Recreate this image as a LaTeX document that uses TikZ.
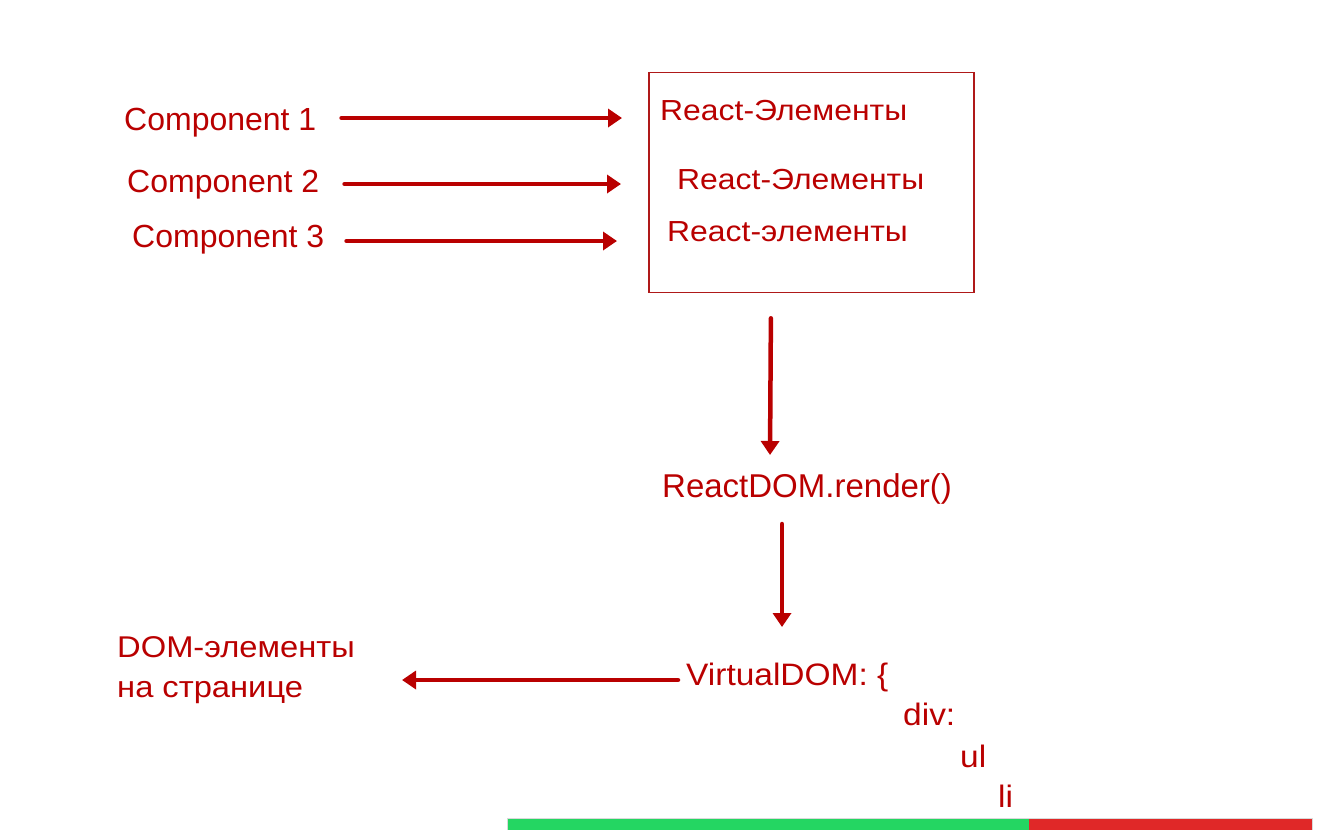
\documentclass[tikz,border=0pt]{standalone}
\usepackage{fontspec}
\setmainfont{Liberation Sans}
\newfontfamily\widefont[FakeStretch=1.1]{Liberation Sans}
\newfontfamily\domfont[FakeStretch=1.09]{Liberation Sans}
\newfontfamily\vdomfont[FakeStretch=1.08]{Liberation Sans}
\usetikzlibrary{positioning,calc,arrows.meta}

\definecolor{reactred}{RGB}{185,0,0}
\definecolor{boxred}{RGB}{175,25,25}
\definecolor{bargreen}{RGB}{36,214,98}
\definecolor{barred}{RGB}{224,40,40}

\tikzset{
    lbl/.style={anchor=base west, inner sep=0pt, text=reactred, font=\fontsize{32}{40}\selectfont},
    elem/.style={lbl, font=\widefont\fontsize{29}{34}\selectfont},
    vdomlbl/.style={lbl, font=\vdomfont\fontsize{31}{36}\selectfont},
    arr/.style={draw=reactred, line width=4.5pt, line cap=round, -{Triangle[length=14pt,width=18pt]}},
}

\begin{document}
\begin{tikzpicture}[x=1pt,y=-1pt]
    \useasboundingbox (0,0) rectangle (1322,830);

    % components
    \node[lbl] (comp1) at (124,130) {Component 1};
    \node[lbl] (comp2) at (127,192) {Component 2};
    \node[lbl] (comp3) at (132,247) {Component 3};

    % box of react elements
    \node[draw=boxred, line width=1.8pt, minimum width=325pt, minimum height=220pt, anchor=north west] (elems) at (648,71.5) {};
    \node[elem] (el1) at (660,120) {React-Элементы};
    \node[elem] (el2) at (677,189) {React-Элементы};
    \node[elem] (el3) at (667,241) {React-элементы};

    \draw[arr] ([xshift=25pt,yshift=12pt]comp1.base east) coordinate (a1) -- ([xshift=-26pt]elems.west |- a1);
    \draw[arr] ([xshift=25pt,yshift=8pt]comp2.base east) coordinate (a2) -- ([xshift=-27pt]elems.west |- a2);
    \draw[arr] ([xshift=22pt,yshift=6pt]comp3.base east) coordinate (a3) -- ([xshift=-31pt]elems.west |- a3);

    % render
    \node[lbl, font=\fontsize{33}{40}\selectfont] (render) at (662,497) {ReactDOM.render()};
    \draw[arr] ([xshift=-40.5pt,yshift=-25pt]elems.south) -- ([xshift=108pt,yshift=42pt]render.base west);

    % virtual dom
    \node[vdomlbl] (vdom) at (686,685) {VirtualDOM: \{};
    \node[vdomlbl] (div) at (903,725) {div:};
    \node[vdomlbl] (ul) at (960,767) {ul};
    \node[vdomlbl] (li) at (998,807) {li};
    \draw[arr] ([xshift=120pt,yshift=-27pt]render.base west) -- ([xshift=96pt,yshift=58pt]vdom.base west);

    % dom elements
    \node[lbl, font=\domfont\fontsize{30}{40}\selectfont] (domel) at (117,657) {DOM-элементы};
    \node[lbl, font=\domfont\fontsize{30}{40}\selectfont, below=0pt of domel.base west, anchor=base west, yshift=-40pt] (page) {на странице};
    \draw[arr] ([xshift=-8pt,yshift=5pt]vdom.base west) coordinate (a4) -- ([xshift=47pt]domel.east |- a4);

    % bar at the bottom
    \fill[bargreen] (507,818) rectangle (1029,830);
    \fill[barred] (1029,818) rectangle (1312,830);
    \draw[black!15, line width=0.8pt] (507,830) -- (507,818) -- (1312,818) -- (1312,830);
\end{tikzpicture}
\end{document}
